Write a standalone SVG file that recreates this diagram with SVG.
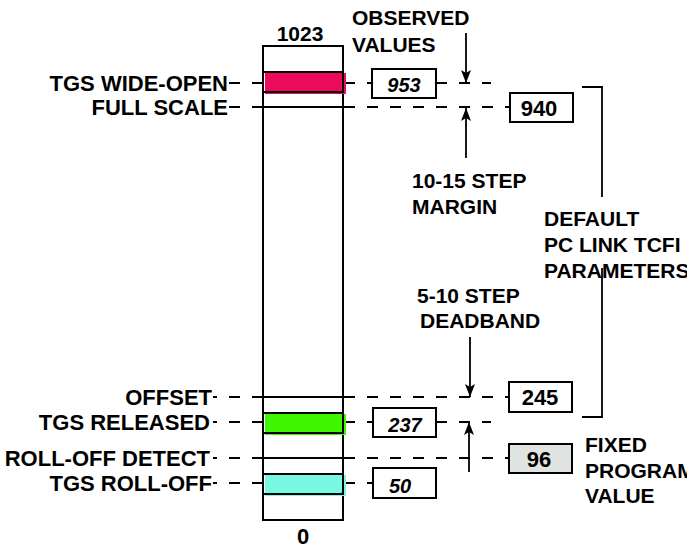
<svg xmlns="http://www.w3.org/2000/svg" width="687" height="550" viewBox="0 0 687 550">
<style>
text{font-family:"Liberation Sans",Arial,sans-serif;font-weight:bold;fill:#000}
.lbl{font-size:22px;text-anchor:end}
.note{font-size:21px}
.val{font-size:22px;text-anchor:middle}
.obs{font-size:20px;font-style:italic;text-anchor:middle}
.box{fill:#fff;stroke:#000;stroke-width:2}
.dash{fill:none;stroke:#000;stroke-width:1.8;stroke-dasharray:11 12}
.dash2{fill:none;stroke:#000;stroke-width:1.8;stroke-dasharray:11 12;stroke-dashoffset:7}
.ln{fill:none;stroke:#000;stroke-width:1.8}
.arr{fill:none;stroke:#000;stroke-width:1.8;marker-end:url(#ah)}
</style>
<defs>
<marker id="ah" viewBox="0 0 13 10" refX="13" refY="5" markerWidth="13" markerHeight="10" markerUnits="userSpaceOnUse" orient="auto">
<path d="M0,0 L13,5 L0,10 L3,5 z" fill="#000"/>
</marker>
</defs>
<g id="connectors">
<path class="dash" d="M229,83 H491"/>
<path class="dash" d="M229,107 H510"/>
<path class="dash2" d="M213,397 H509"/>
<path class="dash2" d="M213,422 H491"/>
<path class="dash2" d="M213,458 H509"/>
<path class="dash2" d="M213,483 H373"/>
<path class="arr" d="M466,33 V83"/>
<path class="arr" d="M466,158 V108"/>
<path class="arr" d="M470,337 V397"/>
<path class="arr" d="M469,472 V422"/>
<path class="ln" d="M582,87 H602 V197 M602,268 V417 H582"/>
</g>
<g id="bar">
<rect x="263" y="46" width="80" height="474" fill="#fff" stroke="#000" stroke-width="2"/>
<path class="ln" d="M263,107 H343 M263,397 H343 M263,458 H343"/>
<rect x="265" y="73" width="81" height="21" fill="#ec0a5c"/>
<rect x="263" y="72" width="80" height="20" fill="none" stroke="#000" stroke-width="2"/>
<rect x="265" y="414" width="81" height="21" fill="#40f500"/>
<rect x="263" y="413" width="80" height="20" fill="none" stroke="#000" stroke-width="2"/>
<rect x="265" y="475" width="81" height="21" fill="#78f8e2"/>
<rect x="263" y="474" width="80" height="20" fill="none" stroke="#000" stroke-width="2"/>
<text x="300" y="41" font-size="21" text-anchor="middle">1023</text>
<text x="303" y="544" font-size="22" text-anchor="middle">0</text>
</g>
<g id="lbl-wide-open"><text class="lbl" x="228" y="91">TGS WIDE-OPEN</text></g>
<g id="lbl-full-scale"><text class="lbl" x="228" y="115">FULL SCALE</text></g>
<g id="lbl-offset"><text class="lbl" x="212" y="405">OFFSET</text></g>
<g id="lbl-released"><text class="lbl" x="210" y="430">TGS RELEASED</text></g>
<g id="lbl-rolloff-detect"><text class="lbl" x="210" y="466">ROLL-OFF DETECT</text></g>
<g id="lbl-rolloff"><text class="lbl" x="212" y="491">TGS ROLL-OFF</text></g>
<g id="obs-953"><rect class="box" x="372" y="69" width="64" height="29"/><text class="obs" x="404" y="92">953</text></g>
<g id="obs-237"><rect class="box" x="373" y="408" width="63" height="29"/><text class="obs" x="405" y="432">237</text></g>
<g id="obs-50"><rect class="box" x="373" y="468" width="63" height="30"/><text class="obs" x="400" y="493">50</text></g>
<g id="val-940"><rect class="box" x="510" y="93" width="63" height="29"/><text class="val" x="539" y="116">940</text></g>
<g id="val-245"><rect class="box" x="509" y="382" width="63" height="30"/><text class="val" x="540" y="405">245</text></g>
<g id="val-96"><rect class="box" x="509" y="444" width="63" height="29" style="fill:#dfe4e0"/><text class="val" x="539" y="467">96</text></g>
<g id="note-observed"><text class="note" x="352" y="25">OBSERVED</text><text class="note" x="352" y="52">VALUES</text></g>
<g id="note-margin"><text class="note" x="412" y="188">10-15 STEP</text><text class="note" x="412" y="214">MARGIN</text></g>
<g id="note-deadband"><text class="note" x="417" y="303">5-10 STEP</text><text class="note" x="420" y="328">DEADBAND</text></g>
<g id="note-default"><text class="note" x="544" y="226">DEFAULT</text><text class="note" x="544" y="252">PC LINK TCFI</text><text class="note" x="544" y="278">PARAMETERS</text></g>
<g id="note-fixed"><text class="note" x="585" y="452">FIXED</text><text class="note" x="585" y="478">PROGRAM</text><text class="note" x="585" y="503">VALUE</text></g>
</svg>
